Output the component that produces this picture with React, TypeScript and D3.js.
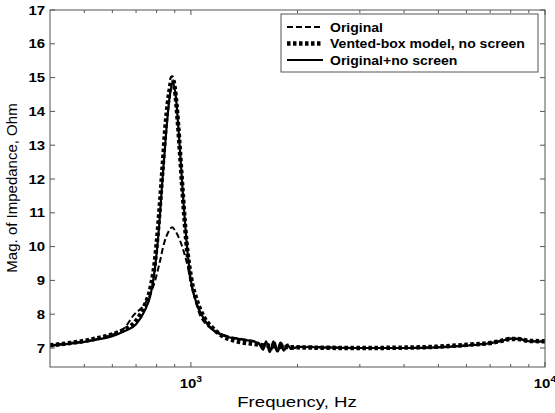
import React from 'react';
import * as d3 from 'd3';

const W = 555;
const H = 413;

// Series: Original (dashed)
const origFreq = [400, 450, 500, 550, 600, 650, 690, 730, 760, 790, 815, 840, 865, 885, 905, 930, 955, 980, 1000, 1030, 1060, 1100, 1150, 1250, 1400, 1550, 1600, 1640, 1680, 1720, 1760, 1800, 1840, 1880, 1930, 2000, 2500, 3000, 4000, 5000, 6000, 7000, 7600, 8000, 8500, 9000, 10000];
const origVal = [7.08, 7.14, 7.2, 7.28, 7.4, 7.6, 7.98, 8.22, 8.5, 8.95, 9.5, 10.1, 10.45, 10.57, 10.45, 10.2, 9.85, 9.4, 8.95, 8.4, 7.98, 7.72, 7.55, 7.37, 7.26, 7.16, 7.0, 7.2, 6.92, 7.18, 6.9, 7.15, 6.95, 7.1, 6.98, 7.04, 7.02, 7.0, 7.0, 7.03, 7.08, 7.15, 7.22, 7.28, 7.27, 7.2, 7.2];

// Series: Vented-box model, no screen (dotted)
const modelFreq = [400, 450, 500, 550, 600, 650, 700, 740, 770, 790, 810, 830, 850, 870, 885, 900, 920, 945, 970, 1000, 1040, 1090, 1150, 1230, 1350, 1500, 1700, 2000, 3000, 4400, 5000, 6100, 7000, 7600, 8000, 8500, 9000, 10000];
const modelVal = [7.08, 7.14, 7.21, 7.3, 7.4, 7.55, 7.8, 8.25, 8.8, 9.5, 10.7, 12.2, 13.7, 14.6, 15.0, 14.7, 13.6, 11.8, 10.2, 9.1, 8.4, 7.9, 7.6, 7.35, 7.2, 7.12, 7.05, 7.02, 7.0, 7.02, 7.04, 7.1, 7.15, 7.22, 7.27, 7.26, 7.21, 7.2];

// Series: Original+no screen (solid)
const solidFreq = [400, 450, 500, 550, 600, 650, 700, 740, 770, 790, 810, 830, 850, 870, 888, 905, 925, 950, 975, 1000, 1040, 1090, 1150, 1250, 1400, 1550, 1600, 1630, 1670, 1710, 1750, 1790, 1830, 1870, 1920, 2000, 2500, 3000, 4000, 5000, 6000, 7000, 7600, 8000, 8500, 9000, 10000];
const solidVal = [7.06, 7.12, 7.18, 7.26, 7.35, 7.5, 7.7, 8.1, 8.6, 9.3, 10.4, 11.9, 13.3, 14.4, 14.85, 14.5, 13.3, 11.5, 10.0, 9.0, 8.3, 7.85, 7.55, 7.35, 7.25, 7.15, 6.95, 7.2, 6.88, 7.2, 6.9, 7.16, 6.92, 7.1, 6.97, 7.03, 7.01, 7.0, 7.0, 7.02, 7.07, 7.14, 7.22, 7.28, 7.26, 7.2, 7.19];

const yTicks = [7, 8, 9, 10, 11, 12, 13, 14, 15, 16, 17];
const xMinorTicks = [500, 600, 700, 800, 900, 2000, 3000, 4000, 5000, 6000, 7000, 8000, 9000];
const xMajorTicks = [1000, 10000];
const xTickLabels = ['3', '4'];
const legendLabels = ['Original', 'Vented-box model, no screen', 'Original+no screen'];

export default function App() {
  const left = 50, right = 545, top = 10, bottom = 367;
  const x = d3.scaleLog().domain([400, 10000]).range([left, right]);
  const y = d3.scaleLinear().domain([7, 17]).range([348, top]);

  const line = d3.line<[number, number]>().x(d => x(d[0])).y(d => y(d[1])).curve(d3.curveMonotoneX);
  const mk = (f: number[], v: number[]) => line(f.map((ff, i) => [ff, v[i]] as [number, number])) || '';

  const axisColor = '#555';
  const font = 'Liberation Sans, Arial, Helvetica, sans-serif';

  const series = [
    { d: mk(origFreq, origVal), w: 2, dash: '6 3', label: legendLabels[0] },
    { d: mk(modelFreq, modelVal), w: 4.5, dash: '3.5 2.5', label: legendLabels[1] },
    { d: mk(solidFreq, solidVal), w: 2.2, dash: undefined, label: legendLabels[2] },
  ];

  const lg = { x: 281, y: 14, w: 257, h: 58 };
  const sx = 1.15;

  return (
    <svg width={W} height={H} style={{ position: 'absolute', left: 0, top: 0, background: '#fff' }} fontFamily={font}>
      <rect x={0} y={0} width={W} height={H} fill="#fff" />
      <defs>
        <clipPath id="plotclip">
          <rect x={left} y={top} width={right - left} height={bottom - top} />
        </clipPath>
      </defs>
      {/* data */}
      <g clipPath="url(#plotclip)" fill="none" stroke="#000" strokeLinejoin="round">
        {series.map((s, i) => (
          <path key={i} d={s.d} strokeWidth={s.w} strokeDasharray={s.dash} />
        ))}
      </g>
      {/* box */}
      <rect x={left} y={top} width={right - left} height={bottom - top} fill="none" stroke={axisColor} strokeWidth={1} />
      {/* y ticks */}
      {yTicks.map(t => (
        <g key={'y' + t}>
          <line x1={left} x2={left + 5} y1={y(t)} y2={y(t)} stroke={axisColor} />
          <line x1={right} x2={right - 5} y1={y(t)} y2={y(t)} stroke={axisColor} />
          <text transform={`translate(45, ${y(t)}) scale(${sx}, 1)`} dy="0.35em" textAnchor="end" fontSize={13} fontWeight="bold">{t}</text>
        </g>
      ))}
      {/* x minor ticks */}
      {xMinorTicks.map(t => (
        <g key={'xm' + t}>
          <line x1={x(t)} x2={x(t)} y1={bottom} y2={bottom - 3} stroke={axisColor} />
          <line x1={x(t)} x2={x(t)} y1={top} y2={top + 3} stroke={axisColor} />
        </g>
      ))}
      {xMajorTicks.map((t, i) => (
        <g key={'xM' + t}>
          <line x1={x(t)} x2={x(t)} y1={bottom} y2={bottom - 5} stroke={axisColor} />
          <line x1={x(t)} x2={x(t)} y1={top} y2={top + 5} stroke={axisColor} />
          <text transform={`translate(${x(t)}, 388) scale(${sx}, 1)`} textAnchor="middle" fontSize={13} fontWeight="bold">
            10<tspan dy={-6} fontSize={9}>{xTickLabels[i]}</tspan>
          </text>
        </g>
      ))}
      {/* axis labels */}
      <text transform={`translate(297, 407) scale(1.2, 1)`} textAnchor="middle" fontSize={15.5}>Frequency, Hz</text>
      <text transform={`translate(17, 188) rotate(-90)`} textAnchor="middle" fontSize={15}>Mag. of Impedance, Ohm</text>
      {/* legend */}
      <rect x={lg.x} y={lg.y} width={lg.w} height={lg.h} fill="#fff" stroke={axisColor} strokeWidth={1} />
      {series.map((s, i) => {
        const ly = 27 + i * 16.5;
        return (
          <g key={'lg' + i}>
            <line x1={287} x2={323} y1={ly} y2={ly} stroke="#000" strokeWidth={s.w} strokeDasharray={s.dash} />
            <text transform={`translate(330, ${ly}) scale(1.08, 1)`} dy="0.35em" fontSize={13} fontWeight="bold">{s.label}</text>
          </g>
        );
      })}
    </svg>
  );
}
